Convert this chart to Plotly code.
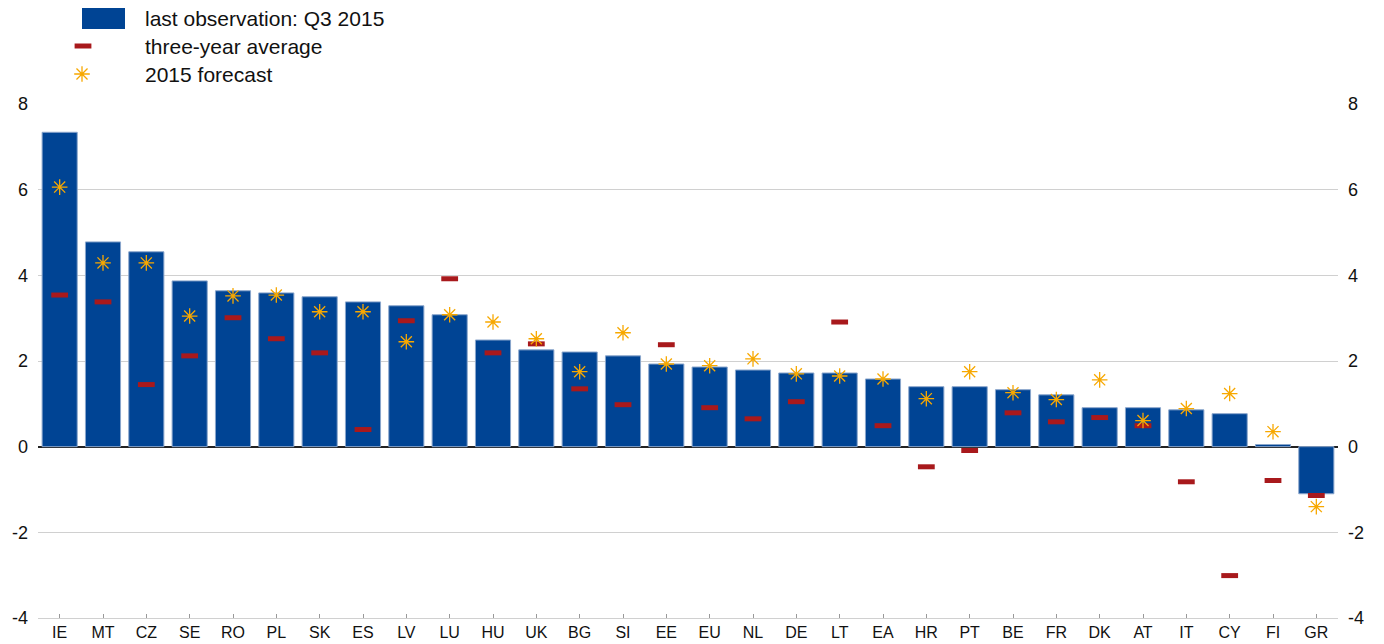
import plotly.graph_objects as go

countries = ["IE", "MT", "CZ", "SE", "RO", "PL", "SK", "ES", "LV", "LU",
             "HU", "UK", "BG", "SI", "EE", "EU", "NL", "DE", "LT", "EA",
             "HR", "PT", "BE", "FR", "DK", "AT", "IT", "CY", "FI", "GR"]

last_obs = [7.34, 4.78, 4.55, 3.87, 3.64, 3.59, 3.50, 3.38, 3.29, 3.08,
            2.49, 2.26, 2.21, 2.12, 1.93, 1.86, 1.79, 1.72, 1.72, 1.58,
            1.40, 1.40, 1.33, 1.21, 0.91, 0.91, 0.86, 0.77, 0.05, -1.10]

three_year_avg = [3.54, 3.38, 1.45, 2.12, 3.01, 2.52, 2.19, 0.40, 2.94, 3.92,
                  2.19, 2.40, 1.35, 0.98, 2.38, 0.91, 0.65, 1.05, 2.91, 0.49,
                  -0.47, -0.09, 0.79, 0.58, 0.68, 0.49, -0.82, -3.01, -0.79, -1.14]

forecast_2015 = [6.06, 4.29, 4.29, 3.05, 3.52, 3.54, 3.15, 3.15, 2.45, 3.08,
                 2.91, 2.52, 1.75, 2.66, 1.93, 1.89, 2.05, 1.70, 1.65, 1.58,
                 1.12, 1.75, 1.26, 1.10, 1.56, 0.61, 0.89, 1.24, 0.35, -1.40]

y_ticks = [-4, -2, 0, 2, 4, 6, 8]
y_ticktext = ["-4", "-2", "0", "2", "4", "6", "8"]

legend_labels = ["last observation: Q3 2015", "three-year average", "2015 forecast"]

BLUE = "#004494"
RED = "#A8191C"
ORANGE = "#F7A800"
GRID = "#d0d0d0"
FONT = "Liberation Sans, Arial, sans-serif"

# page body adds 8px, so margins are in figure pixels; the top strip holds the legend
L, R, B = 30, 54, 34
PAPER_H = 644 - B            # paper height (top margin is 0)
PLOT_H = 514                 # height of the bar chart area
MAIN_TOP = PLOT_H / PAPER_H

avg_marker = dict(symbol="line-ew", size=12, color=RED, line=dict(color=RED, width=5))
fc_marker = dict(symbol="asterisk-open", size=13, color=ORANGE,
                 line=dict(color=ORANGE, width=1.3))

fig = go.Figure()

fig.add_trace(go.Bar(
    x=countries, y=last_obs,
    marker=dict(color=BLUE, line=dict(color="#8aa6cc", width=1)),
    name=legend_labels[0],
))

fig.add_trace(go.Scatter(
    x=countries, y=three_year_avg, mode="markers",
    marker=avg_marker, name=legend_labels[1],
))

fig.add_trace(go.Scatter(
    x=countries, y=forecast_2015, mode="markers",
    marker=fc_marker, name=legend_labels[2],
))

# invisible trace to carry the right-hand axis
fig.add_trace(go.Scatter(x=[countries[0]], y=[0], yaxis="y2", mode="markers",
                         marker=dict(opacity=0), hoverinfo="skip"))

# legend strip: x3/y3 use screenshot pixel coordinates
fig.add_trace(go.Scatter(x=[83], y=[46], xaxis="x3", yaxis="y3",
                         mode="markers", marker=avg_marker, hoverinfo="skip"))
fig.add_trace(go.Scatter(x=[82], y=[74], xaxis="x3", yaxis="y3",
                         mode="markers", marker=fc_marker, hoverinfo="skip"))

axis_common = dict(
    range=[-4, 8], tickvals=y_ticks, ticktext=y_ticktext, ticks="",
    showline=False, automargin=False, ticklabelstandoff=9,
    tickfont=dict(size=18, color="#111111", family=FONT),
    domain=[0, MAIN_TOP],
)

fig.update_layout(
    width=1384, height=644,
    margin=dict(l=L, r=R, t=0, b=B),
    plot_bgcolor="white", paper_bgcolor="white",
    showlegend=False,
    bargap=0.19,
    font=dict(family=FONT, color="#111111"),
    xaxis=dict(
        range=[-0.5, len(countries) - 0.5],
        showgrid=False, ticks="inside", ticklen=4, tickcolor="#999999",
        tickfont=dict(size=16, color="#111111", family=FONT),
        ticklabelstandoff=0,
        # bottom axis line doubles as the -4 gridline
        showline=True, linecolor=GRID, linewidth=1,
        zeroline=False, automargin=False,
    ),
    yaxis=dict(
        **axis_common, showgrid=True, gridcolor=GRID, gridwidth=1,
        zeroline=True, zerolinecolor="#222222", zerolinewidth=1.5,
    ),
    yaxis2=dict(
        **axis_common, anchor="x", overlaying="y", side="right", showgrid=False,
        zeroline=False,
    ),
    xaxis3=dict(range=[L + 8, 1384 - R + 8], domain=[0, 1], anchor="y3",
                visible=False, fixedrange=True),
    yaxis3=dict(range=[8 + PAPER_H - PLOT_H, 8], domain=[MAIN_TOP, 1], anchor="x3",
                visible=False, fixedrange=True),
)

fig.add_shape(type="rect", xref="x3", yref="y3",
              x0=82, x1=125, y0=29, y1=7,
              fillcolor=BLUE, line=dict(width=0))
for lbl, ly in zip(legend_labels, [18, 46, 74]):
    fig.add_annotation(xref="x3", yref="y3", x=143, y=ly,
                       text=lbl, showarrow=False, xanchor="left", yanchor="middle",
                       font=dict(size=21, color="#111111", family=FONT))

fig.write_html("out.html")
